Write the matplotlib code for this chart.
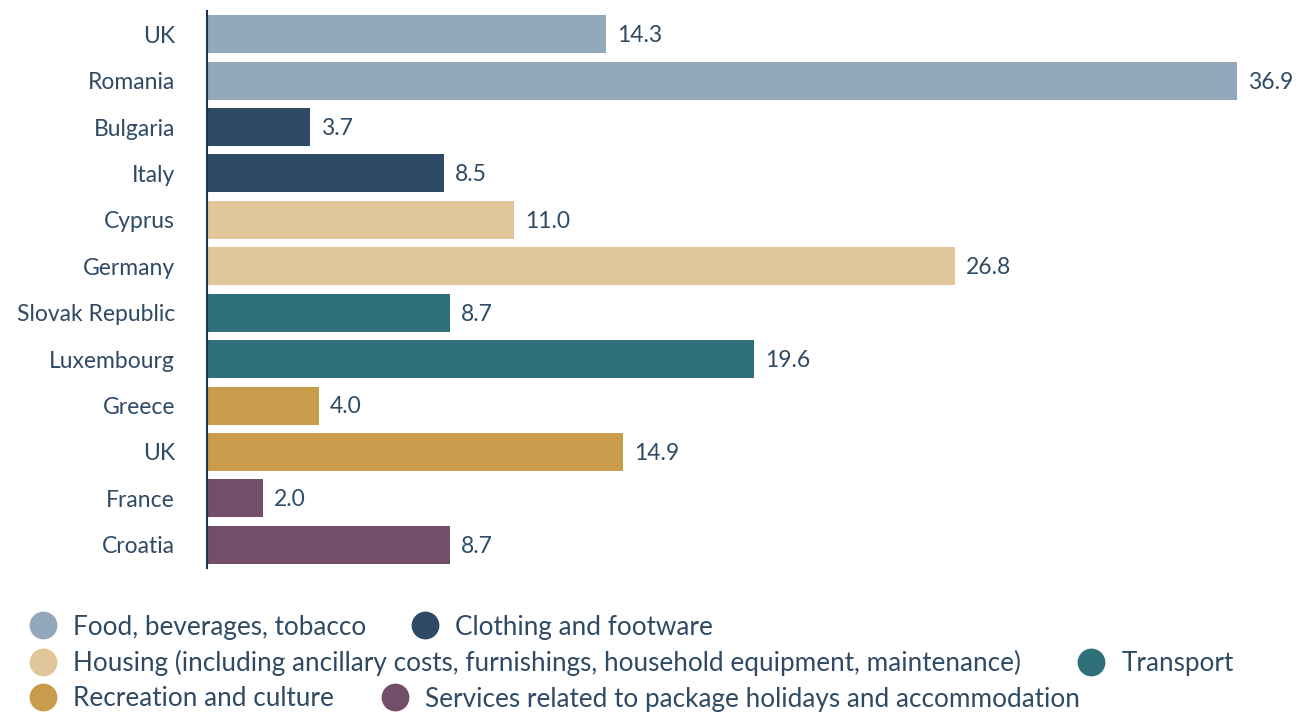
import matplotlib
matplotlib.use("Agg")
import matplotlib.pyplot as plt
from matplotlib.lines import Line2D

countries = ["UK", "Romania", "Bulgaria", "Italy", "Cyprus", "Germany",
             "Slovak Republic", "Luxembourg", "Greece", "UK", "France", "Croatia"]
values = [14.3, 36.9, 3.7, 8.5, 11.0, 26.8, 8.7, 19.6, 4.0, 14.9, 2.0, 8.7]
category_index = [0, 0, 1, 1, 2, 2, 3, 3, 4, 4, 5, 5]
categories = ["Food, beverages, tobacco", "Clothing and footware",
              "Housing (including ancillary costs, furnishings, household equipment, maintenance)",
              "Transport", "Recreation and culture",
              "Services related to package holidays and accommodation"]
colors = ["#94A8BC", "#2E4A65", "#E0C699", "#30707A", "#C99C4C", "#734E68"]
text_color = "#2E4A65"

plt.rcParams['font.family'] = ['Lato', 'DejaVu Sans']

fig = plt.figure(figsize=(12.98, 7.13), dpi=100)
ax = fig.add_axes([207/1298, 1 - 568/713, (1290-207)/1298, (568-11)/713])

ypos = list(range(len(countries)))
bar_colors = [colors[i] for i in category_index]
ax.barh(ypos, values, height=0.82, color=bar_colors)
ax.set_ylim(len(countries) - 0.5, -0.5)
ax.set_xlim(0, 1083/27.9)
ax.set_yticks(ypos)
ax.set_yticklabels(countries, fontsize=16.5, color=text_color)
ax.tick_params(axis='y', length=0, pad=23)
ax.set_xticks([])
for s in ["top", "right", "bottom"]:
    ax.spines[s].set_visible(False)
ax.spines["left"].set_color("#1F3350")
ax.spines["left"].set_linewidth(1.5)

for y, v in zip(ypos, values):
    ax.annotate(f"{v:.1f}", xy=(v, y), xytext=(8, -1), textcoords="offset points",
                va="center", ha="left", fontsize=16.5, color=text_color)

def handle(c):
    return Line2D([], [], marker='o', linestyle='none', markersize=19,
                  markerfacecolor=c, markeredgecolor=c)

rows = [(0, 1), (2, 3), (4, 5)]
row_y = [627, 663, 699]
spacings = [1.75, 2.2, 1.85]
for (a, b), yy, cs in zip(rows, row_y, spacings):
    leg = fig.legend([handle(colors[a]), handle(colors[b])],
                     [categories[a], categories[b]],
                     loc="center left", bbox_to_anchor=(30/1298, 1 - yy/713),
                     ncol=2, frameon=False, fontsize=18.8, handlelength=1.0,
                     handletextpad=0.65, columnspacing=cs, borderpad=0,
                     borderaxespad=0)
    for t in leg.get_texts():
        t.set_color(text_color)

fig.savefig("out.png", dpi=100, facecolor="white")
